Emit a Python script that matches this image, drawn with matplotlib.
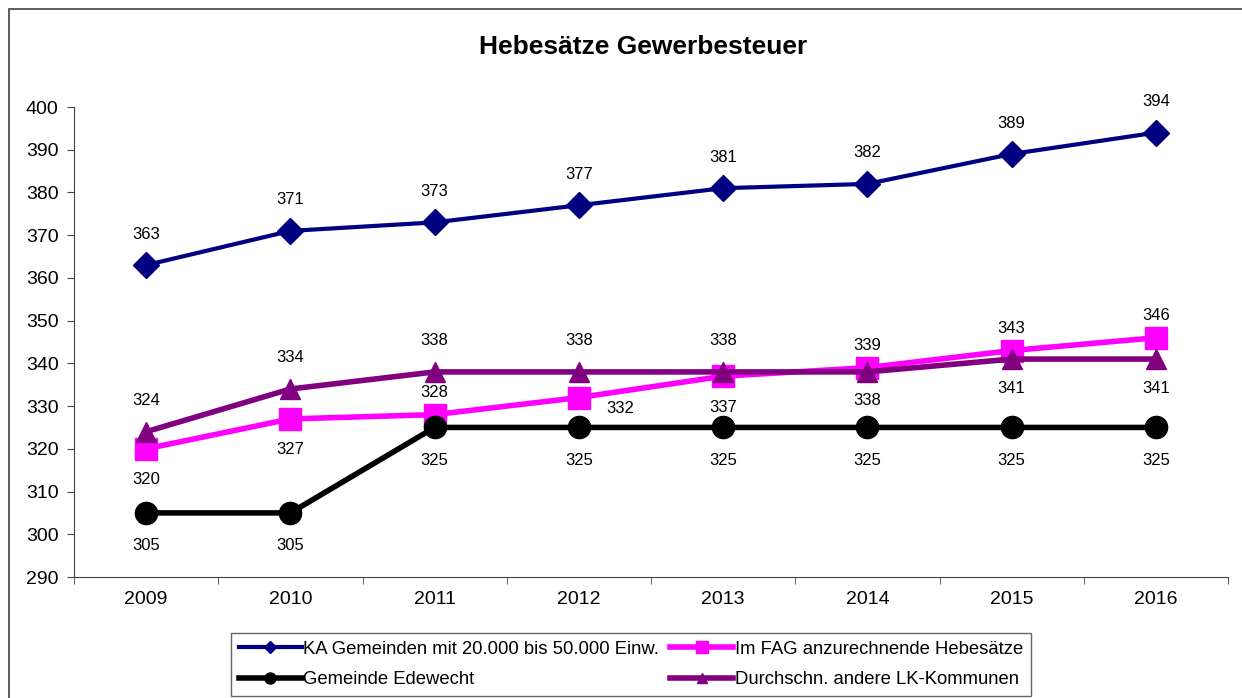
import numpy as np
import matplotlib.pyplot as plt
from matplotlib.patches import Rectangle
from matplotlib import rcParams
rcParams.update({'font.family': ['Liberation Sans', 'DejaVu Sans']})

years = ["2009", "2010", "2011", "2012", "2013", "2014", "2015", "2016"]
ka = [363, 371, 373, 377, 381, 382, 389, 394]
fag = [320, 327, 328, 332, 337, 339, 343, 346]
edewecht = [305, 305, 325, 325, 325, 325, 325, 325]
lk = [324, 334, 338, 338, 338, 338, 341, 341]

# label placement per point: 'a' above, 'b' below, 'r' right
fag_pos = ["b", "b", "a", "r", "b", "a", "a", "a"]
lk_pos = ["a", "a", "a", "a", "a", "b", "b", "b"]

PX = 0.72  # points per pixel at 100 dpi


def label_points(ax, x, vals, where, up=31, down=32):
    for xi, v, w in zip(x, vals, where):
        if w == "a":
            off = (0, up * PX)
        elif w == "b":
            off = (0, -down * PX)
        else:
            off = (41 * PX, -11 * PX)
        ax.annotate(str(v), (xi, v), xytext=off, textcoords="offset points",
                    ha="center", va="center", fontsize=12, zorder=6)


def main():
    fig = plt.figure(figsize=(12.42, 6.98), dpi=100)
    ax = fig.add_axes([74 / 1242, 1 - 577 / 698, (1228 - 74) / 1242, (577 - 107) / 698])
    x = np.arange(len(years))

    l1, = ax.plot(x, ka, color="#000080", lw=3, marker="D", ms=13, zorder=3,
                  label="KA Gemeinden mit 20.000 bis 50.000 Einw.")
    l2, = ax.plot(x, fag, color="#FF00FF", lw=4, marker="s", ms=16, zorder=3,
                  label="Im FAG anzurechnende Hebesätze")
    l3, = ax.plot(x, edewecht, color="black", lw=4, marker="o", ms=16, zorder=3,
                  label="Gemeinde Edewecht")
    l4, = ax.plot(x, lk, color="#800080", lw=4, marker="^", ms=15, zorder=4,
                  label="Durchschn. andere LK-Kommunen")

    label_points(ax, x, ka, ["a"] * len(ka), up=31)
    label_points(ax, x, fag, fag_pos, up=22, down=31)
    label_points(ax, x, edewecht, ["b"] * len(edewecht), down=33)
    label_points(ax, x, lk, lk_pos, up=31, down=29)

    ax.set_xlim(-0.5, len(years) - 0.5)
    ax.set_ylim(290, 400)
    ax.set_yticks(np.arange(290, 401, 10))
    ax.set_xticks(x)
    ax.set_xticklabels(years)
    ax.set_xticks(np.arange(-0.5, len(years)), minor=True)
    ax.tick_params(axis="x", which="major", length=0, pad=10, labelsize=14)
    ax.tick_params(axis="x", which="minor", length=5, direction="out", color="#404040")
    ax.tick_params(axis="y", length=5, direction="out", labelsize=14, pad=6, color="#404040")
    for s in ["top", "right"]:
        ax.spines[s].set_visible(False)
    ax.spines["left"].set_color("#404040")
    ax.spines["bottom"].set_color("#404040")

    fig.text(643 / 1242, 1 - 47 / 698, "Hebesätze Gewerbesteuer", ha="center", va="center",
             fontsize=19, fontweight="bold")

    leg = fig.legend([l1, l3, l2, l4], [h.get_label() for h in [l1, l3, l2, l4]],
                     ncol=2, loc="center", bbox_to_anchor=(631 / 1242, 1 - 664.5 / 698),
                     fancybox=False, edgecolor="#404040", fontsize=13.3, markerscale=0.5,
                     handlelength=3.4, handletextpad=0.1, columnspacing=0.6,
                     borderpad=0.4, labelspacing=0.75, borderaxespad=0, frameon=True)
    leg.get_frame().set_linewidth(1.0)

    fig.patches.append(Rectangle((9 / 1242, -0.1), 1.2, 1 - 9 / 698 + 0.1,
                                 transform=fig.transFigure, fill=False,
                                 edgecolor="#404040", lw=1.2))

    fig.savefig("out.png", dpi=100)


if __name__ == "__main__":
    main()
